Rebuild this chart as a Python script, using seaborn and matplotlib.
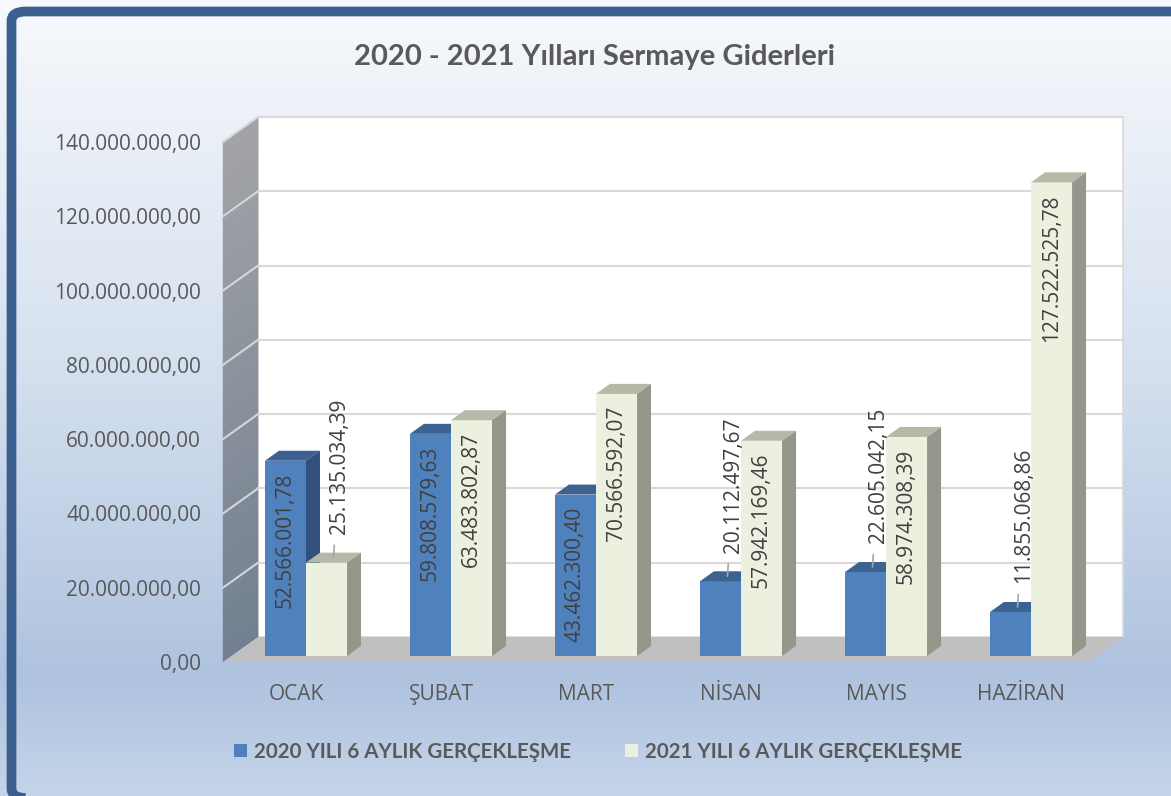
#!/usr/bin/env python

# 2020 - 2021 sermaye giderleri, excel tarzi 3B sutun grafigi

import numpy as np
import pandas as pd
import seaborn as sns
import matplotlib.pyplot as plt
import matplotlib.transforms as mtransforms
from matplotlib.patches import Polygon, Rectangle, Patch, FancyBboxPatch
from matplotlib.colors import to_rgb

aylar = ["OCAK", "ŞUBAT", "MART", "NİSAN", "MAYIS", "HAZİRAN"]
seriler = ["2020 YILI 6 AYLIK GERÇEKLEŞME", "2021 YILI 6 AYLIK GERÇEKLEŞME"]
deger_2020 = [52566001.78, 59808579.63, 43462300.40, 20112497.67, 22605042.15, 11855068.86]
deger_2021 = [25135034.39, 63483802.87, 70566592.07, 57942169.46, 58974308.39, 127522525.78]
y_ticks = [0, 20e6, 40e6, 60e6, 80e6, 100e6, 120e6, 140e6]

df = pd.DataFrame({
    "ay": aylar * 2,
    "deger": deger_2020 + deger_2021,
    "seri": [seriler[0]] * 6 + [seriler[1]] * 6,
})

def tr_sayi(v):
    s = f"{v:,.2f}"
    return s.replace(",", "#").replace(".", ",").replace("#", ".")

on_renk = ["#4f81bd", "#ebf1de"]
ust_renk = ["#3c6292", "#b5b9a8"]
yan_renk = ["#30507d", "#94988a"]
yazi = "#595959"

W, H = 1171, 796
fig = plt.figure(figsize=(W / 100, H / 100), dpi=100)
fig.patch.set_facecolor("white")

# arka plan gradyani
bg = fig.add_axes([0, 0, 1, 1], zorder=-5)
stops = np.array([to_rgb("#f7f9fc"), to_rgb("#d6e1ef"), to_rgb("#afc3df"), to_rgb("#c4d4e9")])
pos = np.array([0.0, 0.45, 0.85, 1.0])
t = np.linspace(0, 1, 400)
grad = np.stack([np.interp(t, pos, stops[:, k]) for k in range(3)], axis=1)
bg.imshow(grad[:, None, :], aspect="auto", extent=[0, 1, 0, 1], origin="upper")
bg.set_xlim(0, 1)
bg.set_ylim(0, 1)
bg.axis("off")

# cerceve
fig.patches.append(FancyBboxPatch((11.5 / W, -2 / H), (W + 20) / W, (H - 9.5) / H,
                                  boxstyle="round,pad=0,rounding_size=0.012",
                                  transform=fig.transFigure, fill=False,
                                  edgecolor="#3b5f8f", linewidth=7, zorder=5))

# ana eksen (on yuz duzlemi)
XLIM = (-0.517, 5.448)
ax = fig.add_axes([231 / W, (H - 656) / H, 865 / W, 520 / H])
ax.patch.set_visible(False)

sns.barplot(data=df, x="ay", y="deger", hue="seri", palette=on_renk, width=0.566,
            saturation=1, linewidth=0, legend=False, ax=ax, zorder=3)
ax.set_xlim(*XLIM)
ax.set_ylim(0, 140e6)

PX_X = 145.0
PX_Y = 520 / 140e6
def dx(p):
    return p / PX_X
def dy(p):
    return p / PX_Y

x0, x1 = XLIM
xf, xb = x0 - dx(8), x0 + dx(27)

# arka duvar, taban, sol duvar
ax.add_patch(Rectangle((xb, dy(19)), x1 - x0, 140e6, facecolor="white",
                       edgecolor="#d9d9d9", lw=1.2, zorder=1, clip_on=False))
ax.add_patch(Polygon([(xf, -dy(6)), (x1 - dx(8), -dy(6)), (x1 + dx(27), dy(19)), (xb, dy(19))],
                     facecolor="#c0c0c0", edgecolor="none", zorder=1.2, clip_on=False))
c_ust, c_alt = np.array(to_rgb("#a2a3a6")), np.array(to_rgb("#717f90"))
N = 60
for k in range(N):
    v0, v1 = 140e6 * k / N, 140e6 * (k + 1) / N
    c = c_alt + (c_ust - c_alt) * (k + 0.5) / N
    ax.add_patch(Polygon([(xf, v0 - dy(6)), (xb, v0 + dy(19)), (xb, v1 + dy(19)), (xf, v1 - dy(6))],
                         facecolor=c, edgecolor=c, lw=0.3, zorder=1.1, clip_on=False))
for v in y_ticks[1:]:
    ax.plot([xb, x1 + dx(27)], [v + dy(19)] * 2, color="#d9d9d9", lw=1.5, zorder=1.5, clip_on=False)
    ax.plot([xf, xb], [v - dy(6), v + dy(19)], color="#d4d6da", lw=1.5, zorder=1.5, clip_on=False)

# 3B cubuk yuzleri ve etiketler
bars = list(ax.patches)[:12]
DX, DY = dx(14), dy(10)
sirali = sorted(range(12), key=lambda i: bars[i].get_x())
for n, i in enumerate(sirali):
    b = bars[i]
    s = i // 6
    bx0, bx1, h = b.get_x(), b.get_x() + b.get_width(), b.get_height()
    z = 3 + n * 0.05
    b.set_zorder(z)
    ax.add_patch(Polygon([(bx0, h), (bx1, h), (bx1 + DX, h + DY), (bx0 + DX, h + DY)],
                         facecolor=ust_renk[s], edgecolor="none", zorder=z, clip_on=False))
    ax.add_patch(Polygon([(bx1, 0), (bx1 + DX, DY), (bx1 + DX, h + DY), (bx1, h)],
                         facecolor=yan_renk[s], edgecolor="none", zorder=z, clip_on=False))
    cx = bx0 + b.get_width() / 2
    if h > 30e6:
        ax.annotate(tr_sayi(h), xy=(cx, h), xytext=(0, -8.5), textcoords="offset points",
                    rotation=90, ha="center", va="top", fontsize=15, color="#404040",
                    family=["Open Sans", "DejaVu Sans"], zorder=10)
    else:
        ax.annotate(tr_sayi(h), xy=(cx + dx(7), h + dy(5)), xytext=(4, 17),
                    textcoords="offset points", rotation=90, ha="center", va="bottom",
                    fontsize=15, color="#404040", family=["Open Sans", "DejaVu Sans"], zorder=10,
                    arrowprops=dict(arrowstyle="-", color="#a6a6a6", lw=1.2, shrinkA=6, shrinkB=0))

# eksenler
for sp in ax.spines.values():
    sp.set_visible(False)
ax.set_yticks(y_ticks)
ax.set_yticklabels([tr_sayi(v) for v in y_ticks])
ax.set_xticks(range(len(aylar)))
ax.set_xticklabels(aylar)
ax.tick_params(axis="y", length=0, pad=21.5, labelsize=15, labelcolor=yazi)
ax.tick_params(axis="x", length=0, pad=20, labelsize=15, labelcolor=yazi)
ax.set_xlabel("")
ax.set_ylabel("")
for lab in ax.get_yticklabels():
    lab.set_family(["Open Sans", "DejaVu Sans"])
    lab.set_transform(lab.get_transform() + mtransforms.ScaledTranslation(0, -6 / 100, fig.dpi_scale_trans))
for lab in ax.get_xticklabels():
    lab.set_family(["Open Sans", "DejaVu Sans"])
    lab.set_transform(lab.get_transform() + mtransforms.ScaledTranslation(-10 / 100, 0, fig.dpi_scale_trans))

fig.text(595 / W, 1 - 57 / H, "2020 - 2021 Yılları Sermaye Giderleri", ha="center", va="center",
         fontsize=21, fontweight="bold", color=yazi, family=["Lato", "DejaVu Sans"])

handles = [Patch(facecolor=on_renk[0]), Patch(facecolor=on_renk[1])]
fig.legend(handles, seriler, loc="center", bbox_to_anchor=(598 / W, 1 - 752 / H), ncol=2,
           frameon=False, handlelength=0.63, handleheight=0.63, handletextpad=0.35,
           columnspacing=2.6, labelcolor=yazi,
           prop={"family": ["Lato", "DejaVu Sans"], "weight": "bold", "size": 14.8})

plt.savefig("out.png", dpi=100)
